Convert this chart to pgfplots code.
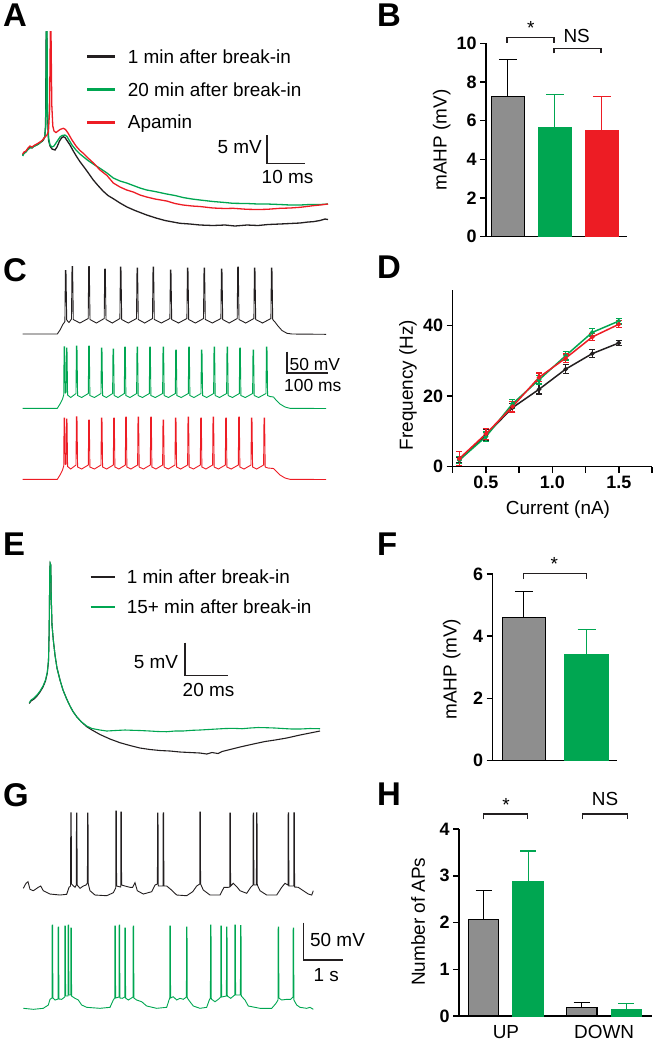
\documentclass[border=0pt]{standalone}
\usepackage{pgfplots}
\pgfplotsset{compat=1.18}
\usepackage{fontspec}
\setmainfont{Liberation Sans}
\definecolor{cgreen}{HTML}{00A651}
\definecolor{cred}{HTML}{ED1C24}
\definecolor{cgray}{HTML}{8E8E8E}
\definecolor{cblack}{HTML}{231F20}
\pgfplotsset{
  panel/.style={scale only axis, anchor=south west, axis lines=left,
    axis line style={-, line width=1.5bp, black},
    tick style={line width=1.5bp, black}, tick align=outside, major tick length=6bp,
    tick label style={font=\fontsize{18}{20}\selectfont\bfseries},
    /pgf/number format/assume math mode=true,
    label style={font=\fontsize{19}{22}\selectfont},
    clip=false},
  barerr/.style={error bars/.cd, y dir=plus, y explicit,
    error bar style={line width=1.2bp, #1},
    error mark options={rotate=90, line width=1.2bp, mark size=9bp, #1}},
  pterr/.style={error bars/.cd, y dir=both, y explicit,
    error bar style={line width=1.2bp, #1},
    error mark options={rotate=90, line width=1.2bp, mark size=3bp, #1}},
}
\newcommand{\txt}{\fontsize{19}{22}\selectfont}
\newcommand{\lett}{\fontsize{33}{36}\selectfont\bfseries}
\begin{document}
\begin{tikzpicture}
\path[use as bounding box] (0bp,0bp) rectangle (653bp,-1045bp);

% ---------------- Panel B ----------------
\begin{axis}[panel, at={(486bp,-236.7bp)}, width=140.7bp, height=193.4bp,
  xmin=0.536, xmax=3.53, ymin=0, ymax=10, xtick=\empty, ytick={0,2,4,6,8,10},
  ylabel={mAHP (mV)}, ylabel style={at={(axis description cs:-0.315,0.5)}, anchor=center}]
\addplot[ybar, bar shift=0pt, bar width=0.7, fill=cgray, draw=black, line width=1.2bp, barerr=black]
  coordinates {(1,7.25) +- (0,1.92)};
\addplot[ybar, bar shift=0pt, bar width=0.7, fill=cgreen, draw=cgreen, line width=1.2bp, barerr=cgreen]
  coordinates {(2,5.66) +- (0,1.70)};
\addplot[ybar, bar shift=0pt, bar width=0.7, fill=cred, draw=cred, line width=1.2bp, barerr=cred]
  coordinates {(3,5.48) +- (0,1.76)};
\end{axis}

% ---------------- Panel D ----------------
\begin{axis}[panel, at={(452.7bp,-466.7bp)}, width=199.3bp, height=176.7bp,
  xmin=0.25, xmax=1.75, ymin=0, ymax=50,
  xtick={0.25,0.5,0.75,1,1.25,1.5,1.75}, xticklabels={,0.5,,1.0,,1.5,}, ytick={0,20,40},
  xlabel={Current (nA)}, ylabel={Frequency (Hz)},
  ylabel style={at={(axis description cs:-0.224,0.462)}, anchor=center},
  xlabel style={at={(axis description cs:0.528,-0.245)}, anchor=center}]
\addplot[cblack, line width=1.5bp, mark=*, mark size=1.5bp, pterr=cblack] coordinates {
 (0.3,1.9) +- (0,0.8) (0.5,9.0) +- (0,1.5) (0.7,16.7) +- (0,1.2) (0.9,21.9) +- (0,1.3)
 (1.1,27.6) +- (0,1.3) (1.3,32.0) +- (0,1.2) (1.5,35.0) +- (0,0.8)};
\addplot[cgreen, line width=1.5bp, mark=*, mark size=1.5bp, pterr=cgreen] coordinates {
 (0.3,1.9) +- (0,1.0) (0.5,8.5) +- (0,1.3) (0.7,17.8) +- (0,1.2) (0.9,24.6) +- (0,1.2)
 (1.1,31.4) +- (0,1.2) (1.3,38.0) +- (0,1.0) (1.5,41.2) +- (0,0.8)};
\addplot[cred, line width=1.5bp, mark=*, mark size=1.5bp, pterr=cred] coordinates {
 (0.3,2.3) +- (0,2.0) (0.5,9.3) +- (0,1.5) (0.7,17.0) +- (0,1.5) (0.9,25.3) +- (0,1.2)
 (1.1,30.7) +- (0,1.2) (1.3,36.7) +- (0,1.0) (1.5,40.3) +- (0,1.0)};
\end{axis}

% ---------------- Panel F ----------------
\begin{axis}[panel, at={(492.7bp,-760.7bp)}, width=124.6bp, height=186.7bp,
  xmin=0.504, xmax=2.49, ymin=0, ymax=6, xtick=\empty, ytick={0,2,4,6},
  ylabel={mAHP (mV)}, ylabel style={at={(axis description cs:-0.329,0.49)}, anchor=center}]
\addplot[ybar, bar shift=0pt, bar width=0.69, fill=cgray, draw=black, line width=1.2bp, barerr=black]
  coordinates {(1,4.61) +- (0,0.82)};
\addplot[ybar, bar shift=0pt, bar width=0.69, fill=cgreen, draw=cgreen, line width=1.2bp, barerr=cgreen]
  coordinates {(2,3.40) +- (0,0.82)};
\end{axis}

% ---------------- Panel H ----------------
\begin{axis}[panel, at={(459bp,-1016bp)}, width=193bp, height=187bp,
  xmin=-0.25, xmax=1.716, ymin=0, ymax=4, ytick={0,1,2,3,4},
  xtick={0.228,1.228}, xticklabels={UP,DOWN}, xtick style={draw=none},
  xticklabel style={font=\txt},
  ylabel={Number of APs}, ylabel style={at={(axis description cs:-0.212,0.504)}, anchor=center}]
\addplot[ybar, bar shift=0pt, bar width=0.31, fill=cgray, draw=black, line width=1.2bp,
  error bars/.cd, y dir=plus, y explicit, error bar style={line width=1.2bp, black},
  error mark options={rotate=90, line width=1.2bp, mark size=8bp, black}]
  coordinates {(0,2.07) +- (0,0.61) (1,0.19) +- (0,0.10)};
\addplot[ybar, bar shift=0pt, bar width=0.31, fill=cgreen, draw=cgreen, line width=1.2bp,
  error bars/.cd, y dir=plus, y explicit, error bar style={line width=1.2bp, cgreen},
  error mark options={rotate=90, line width=1.2bp, mark size=8bp, cgreen}]
  coordinates {(0.456,2.87) +- (0,0.66) (1.456,0.14) +- (0,0.12)};
\end{axis}

% ---------------- Overlay: traces, scale bars, legends, labels ----------------
\begin{axis}[at={(0bp,-1045bp)}, anchor=south west, scale only axis, width=653bp, height=1045bp,
  xmin=0, xmax=653, ymin=0, ymax=1045, y dir=reverse, hide axis, clip=false]
% Panel A traces
\addplot[cblack, line width=1.3bp] coordinates {
(22.7,155) (24,153) (26,151.5) (28,149) (30,147) (32,148) (34,146) (36.7,145) (38.5,144) (40,142.5) (42,141.5) (43.3,140) (44.8,137) (45.6,125) (46.2,31.7) (46.8,31.7) (47.4,110) (48.5,140) (50,146) (52,149) (55,150) (57,147) (59.5,141) (61.5,138) (63.3,136.7) (65,137.5) (67,140.5) (70,145) (73,150.5) (76.7,156.7) (80,161.7) (84,167) (88,172.5) (93.3,180) (98,185.5) (103,191) (108,195.5) (113,198.5) (120,203) (127,207) (135,210.5) (146.7,215) (156,218) (165,220.5) (173,222) (180,223.3) (190,224) (200,225) (213,225.5) (225,225) (235,226) (247,225) (258,225.5) (268,224.5) (280,224) (290,223.5) (300,223) (308,222) (313,221.7) (320,220.5) (325,219) (328,219.5)};
\addplot[cgreen, line width=1.3bp] coordinates {
(22.7,156) (24,153.5) (26,152) (28,149.5) (30,148) (32,147.5) (34,146.5) (36.7,145) (38.5,144) (40,143) (42,141) (43.3,139.5) (44.8,136.5) (45.8,125) (46.4,31.7) (47,31.7) (47.6,112) (48.6,138) (50,145) (52,147) (54,146) (56,143) (58,140) (60,137) (62,135.5) (65,135) (67,136.5) (69,140) (72,145) (76,150) (80,154) (83.3,156.7) (88,160.5) (94,164.5) (100,168.3) (107,173) (113.3,178) (120,181) (126.7,183) (133.3,185.5) (140,188) (146.7,190) (155,191.5) (166.7,194) (175,195.5) (183,197.5) (192,199) (200,200) (213,201.5) (225,202.5) (233,203.3) (247,203.5) (258,204) (267,204) (280,204.5) (290,205) (300,205) (310,204.5) (320,204.5) (328,204)};
\addplot[cred, line width=1.3bp] coordinates {
(22.7,154) (24,152) (26,151) (28,148) (30,146) (32,147) (34,145.5) (36.7,144) (38.5,143) (40,142) (42,140.5) (43.3,139) (45,137) (47,135) (48.5,131) (49.6,110) (50.3,31.7) (51,31.7) (51.8,105) (52.8,126) (54,131) (56,132.5) (58,131) (60,129.5) (63.3,128.3) (65.5,129.5) (68,133) (72,140) (76,146) (80,150.5) (83.3,153.3) (88,158) (94,163.5) (100,170) (107,175.5) (113.3,183) (120,187) (126.7,190) (133.3,192) (140,195) (146.7,197) (155,199) (166.7,201) (175,203.5) (183,205) (192,206) (200,206.5) (213,208) (225,208.5) (233,208.3) (247,209.3) (258,209.5) (267,209.3) (280,208.3) (290,208) (300,207.3) (313,205.7) (320,205) (328,204)};
% A legend
\draw[cblack, line width=2.5bp] (axis cs:87.3,56.7) -- (axis cs:115,56.7);
\draw[cgreen, line width=2.5bp] (axis cs:87.3,89.3) -- (axis cs:115,89.3);
\draw[cred, line width=2.5bp] (axis cs:87.3,122.7) -- (axis cs:115,122.7);
\node[anchor=base west, inner sep=0, font=\txt] at (axis cs:127.7,63.3) {1 min after break-in};
\node[anchor=base west, inner sep=0, font=\txt] at (axis cs:127.7,96.7) {20 min after break-in};
\node[anchor=base west, inner sep=0, font=\txt] at (axis cs:127.7,128.3) {Apamin};
% A scale bar
\addplot[cblack, line width=1.6bp] coordinates {(266.7,135) (266.7,163.3) (305,163.3)};
\node[anchor=base east, inner sep=0, font=\txt] at (axis cs:262,153.3) {5 mV};
\node[anchor=base, inner sep=0, font=\txt] at (axis cs:287.5,183.3) {10 ms};

% Panel C traces
\addplot[cblack, line width=0.9bp] coordinates {
(22.7,334) (57.3,334) (60,330) (62.5,325) (64.9,321.5) (65.4,270.5) (66,270.5) (66.7,320) (69,322.5) (71.5,319) (72,266.5) (72.6,266.5) (73.3,319.5) (79.9,323) (88.2,318.5) (88.7,266.5) (89.3,266.5) (90,319.5) (96.4,323) (104.2,318.5) (104.7,269) (105.3,269) (106,319.5) (112.3,323) (119.9,318.5) (120.4,267) (121,267) (121.7,319.5) (128.3,323) (136.5,318.5) (137,268) (137.6,268) (138.3,319.5) (144.7,323) (152.5,318.5) (153,267) (153.6,267) (154.3,319.5) (161.3,323) (169.9,318.5) (170.4,270) (171,270) (171.7,319.5) (178.5,323) (186.9,318.5) (187.4,268) (188,268) (188.7,319.5) (195.4,323) (203.5,318.5) (204,268) (204.6,268) (205.3,319.5) (212.3,323) (220.9,318.5) (221.4,269) (222,269) (222.7,319.5) (229.2,323) (237.2,318.5) (237.7,267) (238.3,267) (239,319.5) (245.7,323) (253.9,318.5) (254.4,268) (255,268) (255.7,319.5) (262.5,323) (270.9,318.5) (271.4,268) (272,268) (272.7,319.5) (275,322) (278,326) (282,330.5) (287,333.3) (292,334) (326,334.3)};
\addplot[cgreen, line width=0.9bp] coordinates {
(22.7,408.3) (57.3,408.3) (60,404) (62.5,399) (63.7,395) (64.1,346.7) (64.6,346.7) (65.2,393) (66.2,392) (66.5,348) (67,348) (67.6,395) (70.7,397.5) (76,393.5) (76.4,346) (77,346) (77.6,395.5) (81.6,397.5) (88.3,393.5) (88.7,346) (89.3,346) (89.9,395.5) (94.4,397.5) (101,393.5) (101.4,348) (102,348) (102.6,395.5) (106.3,397.5) (112.6,393.5) (113,349) (113.6,349) (114.2,395.5) (118,397.5) (124.3,393.5) (124.7,347) (125.3,347) (125.9,395.5) (130,397.5) (136.6,393.5) (137,347) (137.6,347) (138.2,395.5) (142.4,397.5) (149.3,393.5) (149.7,347) (150.3,347) (150.9,395.5) (155.3,397.5) (162.6,393.5) (163,347) (163.6,347) (164.2,395.5) (168.4,397.5) (175.3,393.5) (175.7,350) (176.3,350) (176.9,395.5) (181.2,397.5) (188.3,393.5) (188.7,347) (189.3,347) (189.9,395.5) (194,397.5) (201,393.5) (201.4,350) (202,350) (202.6,395.5) (206.7,397.5) (213.6,393.5) (214,347) (214.6,347) (215.2,395.5) (219.5,397.5) (226.6,393.5) (227,347) (227.6,347) (228.2,395.5) (232.4,397.5) (239.3,393.5) (239.7,348) (240.3,348) (240.9,395.5) (245.3,397.5) (252.6,393.5) (253,350) (253.6,350) (254.2,395.5) (258.6,397.5) (266,393.5) (266.4,347) (267,347) (267.6,395.5) (270,396.5) (273.5,397) (276,400) (280,404) (285,407) (290,408.3) (326,408.5)};
\addplot[cred, line width=0.9bp] coordinates {
(22.7,479.3) (57.3,479.3) (60,475) (62.5,470) (63.7,466) (64.1,418) (64.6,418) (65.2,464.5) (66.2,464) (66.5,419) (67,419) (67.6,466.5) (70.7,469) (76,465) (76.4,416.7) (77,416.7) (77.6,467) (81.6,469) (88.3,465) (88.7,420) (89.3,420) (89.9,467) (94.4,469) (101,465) (101.4,418) (102,418) (102.6,467) (106.6,469) (113.3,465) (113.7,418) (114.3,418) (114.9,467) (118.8,469) (125.3,465) (125.7,417) (126.3,417) (126.9,467) (130.9,469) (137.6,465) (138,417) (138.6,417) (139.2,467) (143.4,469) (150.3,465) (150.7,417) (151.3,417) (151.9,467) (155.9,469) (162.6,465) (163,420) (163.6,420) (164.2,467) (168.3,469) (175,465) (175.4,418) (176,418) (176.6,467) (180.7,469) (187.6,465) (188,417) (188.6,417) (189.2,467) (193.4,469) (200.3,465) (200.7,418) (201.3,418) (201.9,467) (205.9,469) (212.6,465) (213,417) (213.6,417) (214.2,467) (218.4,469) (225.3,465) (225.7,418) (226.3,418) (226.9,467) (231.2,469) (238.3,465) (238.7,417) (239.3,417) (239.9,467) (244,469) (251,465) (251.4,418) (252,418) (252.6,467) (256.7,469) (263.6,465) (264,418) (264.6,418) (265.2,467) (268,468) (273.5,468.5) (276,471) (280,475) (285,478) (290,479.3) (326,479.5)};
% C scale bar
\addplot[cblack, line width=1.6bp] coordinates {(286.7,351.7) (286.7,372.7) (328,372.7)};
\node[anchor=base west, inner sep=0, font=\fontsize{17.5}{20}\selectfont] at (axis cs:289.5,370.5) {50 mV};
\node[anchor=base west, inner sep=0, font=\fontsize{17.5}{20}\selectfont] at (axis cs:284,391.7) {100 ms};

% Panel E traces
\addplot[cblack, line width=1.1bp] coordinates {
(29.3,703.5) (31,701) (34,699) (37,696) (40,692) (43,687) (45.5,681) (47.3,673) (48.5,661) (49.2,630) (49.8,570) (50.2,563.3) (50.8,565) (51.3,600) (52,625) (53.3,640) (55,655) (57,668) (60,680) (63,690) (66.7,699) (70,706) (73,711.5) (76.7,716.7) (81,721.5) (86.7,726.7) (92,730) (100,734.5) (110,739) (120,742.7) (130,745.5) (140,748) (150,749.5) (160,750.5) (170,751) (180,752) (190,752.5) (200,753) (206.7,754) (212,752.5) (218,753.5) (222,751.5) (230,749.5) (240,747) (253.3,744) (265,741.5) (275,740) (286.7,738) (300,735) (310,733) (320,731)};
\addplot[cgreen, line width=1.1bp] coordinates {
(29.3,702.7) (31,700) (34,698) (37,695) (40,691) (43,686) (45.5,680) (47.3,672) (48.5,660) (49.2,630) (49.8,570) (50.2,563.3) (50.8,565) (51.3,600) (52,625) (53.3,640) (55,655) (57,668) (60,680) (63,690) (66.7,699) (70,706) (73,711.5) (76.7,716.7) (81,721.5) (86.7,726) (92,728.5) (100,730) (106.7,731) (115,730.5) (125,730) (133.3,730.3) (140,730.5) (150,731) (158,731.5) (166.7,731.7) (175,731) (183,731) (192,730.3) (200,730) (208,729.5) (216.7,729) (225,728.5) (233.3,728.3) (242,728.7) (250,728) (258,727.5) (266.7,727.7) (275,728) (283,728.5) (292,729) (300,729) (310,728.5) (320,728.7)};
% E legend
\draw[cblack, line width=2bp] (axis cs:90.7,576.7) -- (axis cs:115,576.7);
\draw[cgreen, line width=2bp] (axis cs:90.7,606.7) -- (axis cs:115,606.7);
\node[anchor=base west, inner sep=0, font=\txt] at (axis cs:126.7,583.3) {1 min after break-in};
\node[anchor=base west, inner sep=0, font=\txt] at (axis cs:126.7,613.3) {15+ min after break-in};
% E scale bar
\addplot[cblack, line width=1.6bp] coordinates {(185,642.7) (185,675.3) (227.7,675.3)};
\node[anchor=base east, inner sep=0, font=\txt] at (axis cs:178.3,668.3) {5 mV};
\node[anchor=base, inner sep=0, font=\txt] at (axis cs:208.5,696.7) {20 ms};

% Panel G traces
\addplot[cblack, line width=0.9bp] coordinates {
(23.3,888.3) (26,883.3) (28,881.7) (30,889.3) (33.3,890.7) (38.3,887.3) (40.7,886) (43.3,890.7) (50,894) (60,895) (66.7,894.3) (69,887.3)
(70.5,886) (70.8,812.7) (71.2,812.7) (71.5,884) (75,887.3) (76.3,885) (76.5,813) (76.9,813) (77.2,885) (80,888.3) (83.3,886) (86,885)
(87.4,883) (87.6,813) (88,813) (88.3,884) (90,890.7) (95,895) (106.7,895.7) (113.3,892.7)
(115.7,888) (115.9,811) (116.3,811) (116.6,886) (120.7,887) (120.9,812) (121.3,812) (121.6,885)
(125,886) (130,887.3) (132.7,887.3) (135,882.7) (137.3,890.7) (143.3,894) (151.7,891.7) (155,885)
(157.4,884) (157.6,813) (158,813) (158.3,886) (163,886) (163.2,812.7) (163.6,812.7) (163.9,886)
(166.7,886) (170.7,889.3) (176.7,895) (186.7,895.7) (192.7,891.7) (196.7,886)
(199.7,884) (199.9,812) (200.3,812) (200.6,884) (203.3,890) (210,895) (220,895) (224,887.3) (228.3,887.3)
(229.7,887) (229.9,813) (230.3,813) (230.6,886) (233.3,883.3) (237.3,887.3) (240,890.7) (246.7,893.3) (250.7,887.3)
(253,885) (253.2,813) (253.6,813) (253.9,885) (256.4,885) (256.6,812.7) (257,812.7) (257.3,885)
(260,890.7) (266.7,895) (276.7,895) (281.7,887.3) (285,883.3)
(288,885) (288.2,812.7) (288.6,812.7) (288.9,886) (293.7,886) (293.9,812.7) (294.3,812.7) (294.6,887)
(298.3,887.3) (303.3,890.7) (308.3,894) (311.7,895) (313.3,890.7)};
\addplot[cgreen, line width=0.9bp] coordinates {
(23.3,1008.3) (33.3,1009.3) (43.3,1008.3) (48.3,1005) (50,999.3)
(52,998) (52.2,925) (52.6,925) (52.9,998) (55,1000) (58,999) (58.2,927) (58.6,927) (58.9,999) (61.7,999.3)
(64.7,997) (64.9,926) (65.3,926) (65.6,996) (68,996) (68.2,925) (68.6,925) (68.9,995) (70.7,995) (70.9,928) (71.3,928) (71.6,996)
(75,998.3) (78.3,1000) (81.7,1005) (86.7,1007.3) (100,1008.3) (110,1007.3) (113.3,1000)
(114.7,998) (114.9,926) (115.3,926) (115.6,998) (119,997) (119.2,925) (119.6,925) (119.9,998) (122.3,998.3)
(124.7,997) (124.9,928) (125.3,928) (125.6,998) (128.3,1000) (131,998.3) (133,997) (133.2,926) (133.6,926) (133.9,998)
(136.7,1000) (141.7,1001.7) (146.7,1006) (156.7,1008.3) (166.7,1007.3) (169,1000)
(169.7,998) (169.9,926) (170.3,926) (170.6,998) (173.3,996.7) (176.7,1000) (180,998.3) (183.3,999.3)
(186.4,997) (186.6,927) (187,927) (187.3,998) (190,1001.7) (193.3,1006) (200,1008.3) (206.7,1007.3) (209.3,1000)
(210.4,998) (210.6,925) (211,925) (211.3,999) (215,1001.7) (218.3,999.3) (220.7,997) (220.9,926) (221.3,926) (221.6,997)
(226.4,996) (226.6,927) (227,927) (227.3,996) (230.7,998.3) (234.7,995) (234.9,925) (235.3,925) (235.6,995)
(240.4,995) (240.6,925.5) (241,925.5) (241.3,996) (245,1000) (248.3,1006) (260,1008.3) (271.7,1008.3) (276,1003.3)
(278,1000) (278.2,927) (278.6,927) (278.9,998) (281.7,1000) (286.7,999.3) (290.7,999.3)
(293,997) (293.2,928) (293.6,928) (293.9,1000) (296.7,1005) (300,1007.3) (306.7,1008.3) (310,1007.3) (313.3,1009.3)};
% G scale bar
\addplot[cblack, line width=1.6bp] coordinates {(303.3,922.7) (303.3,960) (343,960)};
\node[anchor=base west, inner sep=0, font=\txt] at (axis cs:310,946.7) {50 mV};
\node[anchor=base west, inner sep=0, font=\txt] at (axis cs:313.3,981.7) {1 s};

% Significance brackets
\draw[cblack, line width=1.2bp] (axis cs:507,42.7) -- (axis cs:507,37.3) -- (axis cs:554,37.3) -- (axis cs:554,42.7);
\draw[cblack, line width=1.2bp] (axis cs:554,53.3) -- (axis cs:554,48.3) -- (axis cs:601,48.3) -- (axis cs:601,53.3);
\node[inner sep=0, font=\txt] at (axis cs:530.7,27.5) {*};
\node[inner sep=0, font=\txt] at (axis cs:576.7,35.8) {NS};
\draw[cblack, line width=1.2bp] (axis cs:523.3,579) -- (axis cs:523.3,573.3) -- (axis cs:586.7,573.3) -- (axis cs:586.7,579);
\node[inner sep=0, font=\txt] at (axis cs:554.3,564) {*};
\draw[cblack, line width=1.2bp] (axis cs:483.3,819.3) -- (axis cs:483.3,814) -- (axis cs:527.3,814) -- (axis cs:527.3,819.3);
\draw[cblack, line width=1.2bp] (axis cs:582.3,819.3) -- (axis cs:582.3,814) -- (axis cs:627.3,814) -- (axis cs:627.3,819.3);
\node[inner sep=0, font=\txt] at (axis cs:506,805) {*};
\node[inner sep=0, font=\txt] at (axis cs:605,799) {NS};

% Panel letters
\node[anchor=north west, inner sep=0, font=\lett] at (axis cs:3,3.3) {A};
\node[anchor=north west, inner sep=0, font=\lett] at (axis cs:377,3.3) {B};
\node[anchor=north west, inner sep=0, font=\lett] at (axis cs:3,258) {C};
\node[anchor=north west, inner sep=0, font=\lett] at (axis cs:377,256) {D};
\node[anchor=north west, inner sep=0, font=\lett] at (axis cs:3,533) {E};
\node[anchor=north west, inner sep=0, font=\lett] at (axis cs:377,533) {F};
\node[anchor=north west, inner sep=0, font=\lett] at (axis cs:3,783) {G};
\node[anchor=north west, inner sep=0, font=\lett] at (axis cs:377,783) {H};
\end{axis}
\end{tikzpicture}
\end{document}
